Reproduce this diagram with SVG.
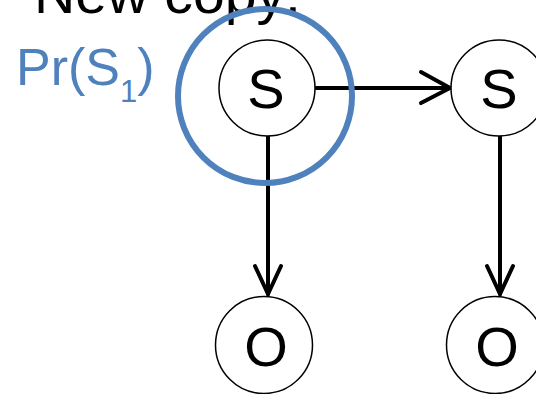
<svg xmlns="http://www.w3.org/2000/svg" width="536" height="394" viewBox="0 0 536 394">
<style>
.node{fill:#fff;stroke:#000;stroke-width:1.5}
.lbl{font-family:"Liberation Sans","Open Sans",sans-serif;font-size:56px;fill:#000;text-anchor:middle}
.edge{stroke:#000;stroke-width:4;fill:none;stroke-linecap:round;stroke-linejoin:miter}
.blue{font-family:"Liberation Sans","Open Sans",sans-serif;fill:#4F81BD}
</style>
<text x="34" y="13" font-family="Liberation Sans, Open Sans, sans-serif" font-size="56" textLength="267" lengthAdjust="spacingAndGlyphs">New copy:</text>
<text class="blue" x="16" y="85" font-size="52">Pr(S<tspan font-size="31" dy="17">1</tspan><tspan dy="-17">)</tspan></text>
<g id="connectors">
<path class="edge" d="M316 88 H449"/>
<path class="edge" d="M421 72 L450 88 L421 103"/>
<path class="edge" d="M268 136 V294"/>
<path class="edge" d="M255 266 L268 294 L281 266"/>
<path class="edge" d="M500 136 V294"/>
<path class="edge" d="M487 266 L500 294 L513 266"/>
</g>
<g id="S1"><circle class="node" cx="267" cy="88" r="48"/><text class="lbl" x="266" y="108">S</text></g>
<g id="S2"><circle class="node" cx="499" cy="88" r="48"/><text class="lbl" x="499" y="108">S</text></g>
<g id="O1"><circle class="node" cx="264" cy="345" r="48.5"/><text class="lbl" x="266" y="366">O</text></g>
<g id="O2"><circle class="node" cx="495" cy="345" r="48.5"/><text class="lbl" x="497" y="366">O</text></g>
<g id="highlight"><circle cx="265" cy="96" r="87" fill="none" stroke="#4F81BD" stroke-width="6"/></g>
</svg>
